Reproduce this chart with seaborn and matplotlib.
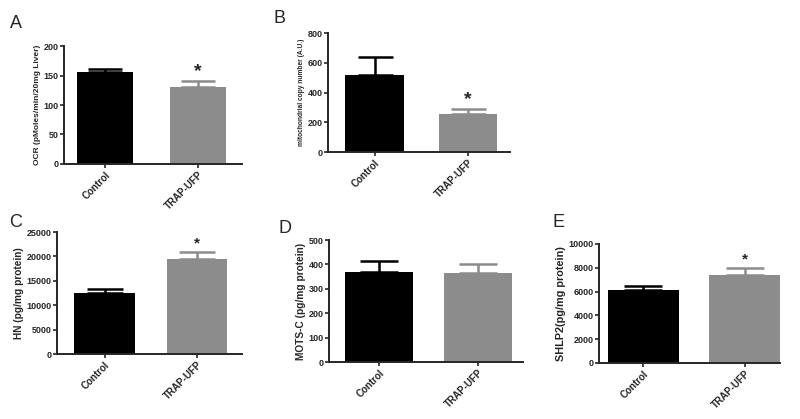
import numpy as np
import pandas as pd
import matplotlib
matplotlib.use("Agg")
import matplotlib.pyplot as plt
import seaborn as sns

sns.set_style("ticks")
plt.rcParams['font.family'] = ['Liberation Sans', 'DejaVu Sans']

groups = ["Control", "TRAP-UFP"]

# values (mean, upper SEM bound)
ocr_mean = [156, 131]
ocr_top = [160.5, 140]
mtdna_mean = [515, 255]
mtdna_top = [639, 289]
hn_mean = [12500, 19400]
hn_top = [13300, 20900]
mots_mean = [368, 366]
mots_top = [414, 400]
shlp2_mean = [6100, 7400]
shlp2_top = [6450, 7990]

bar_colors = ["#000000", "#8c8c8c"]

panels = [
    dict(letter="A", mean=ocr_mean, top=ocr_top, ylim=200, step=50,
         ylabel="OCR (pMoles/min/20mg Liver)", lab_fs=6, star=True,
         pos=[0.08, 0.6086, 0.2225, 0.2816], xlim=(-0.44, 1.47), width=0.6,
         letter_xy=(0.012, 0.965), star_size=14),
    dict(letter="B", mean=mtdna_mean, top=mtdna_top, ylim=800, step=200,
         ylabel="mitochondrial copy number (A.U.)", lab_fs=4.8, star=True,
         pos=[0.41, 0.6372, 0.2275, 0.284], xlim=(-0.5, 1.45), width=0.63,
         letter_xy=(0.342, 0.975), star_size=14),
    dict(letter="C", mean=hn_mean, top=hn_top, ylim=25000, step=5000,
         ylabel="HN (pg/mg protein)", lab_fs=7.3, star=True,
         pos=[0.07125, 0.1551, 0.23125, 0.2912], xlim=(-0.52, 1.49), width=0.66,
         letter_xy=(0.012, 0.49), star_size=11),
    dict(letter="D", mean=mots_mean, top=mots_top, ylim=500, step=100,
         ylabel="MOTS-C (pg/mg protein)", lab_fs=7.3, star=False,
         pos=[0.41125, 0.136, 0.2425, 0.2912], xlim=(-0.51, 1.46), width=0.69,
         letter_xy=(0.348, 0.475), star_size=11),
    dict(letter="E", mean=shlp2_mean, top=shlp2_top, ylim=10000, step=2000,
         ylabel="SHLP2(pg/mg protein)", lab_fs=7.8, star=True,
         pos=[0.74875, 0.1337, 0.22625, 0.284], xlim=(-0.44, 1.35), width=0.7,
         letter_xy=(0.69, 0.49), star_size=11),
]

fig = plt.figure(figsize=(8, 4.19), dpi=100)

for p in panels:
    ax = fig.add_axes(p["pos"])
    df = pd.DataFrame({"group": groups, "value": p["mean"]})
    sns.barplot(data=df, x="group", y="value", hue="group", palette=bar_colors,
                errorbar=None, width=p["width"], legend=False, ax=ax,
                saturation=1, edgecolor="none")
    for i, (m, t) in enumerate(zip(p["mean"], p["top"])):
        ax.errorbar(i, m, yerr=[[0], [t - m]], color=bar_colors[i],
                    capsize=p["width"] * 20, elinewidth=1.8, capthick=1.8,
                    fmt="none")
    if p["star"]:
        ax.text(1, p["top"][1] + p["ylim"] * 0.01, "*", ha="center", va="bottom",
                fontsize=p["star_size"], fontweight="bold")
    ax.set_ylim(0, p["ylim"])
    ax.set_yticks(np.arange(0, p["ylim"] + 1, p["step"]))
    ax.set_xlim(*p["xlim"])
    ax.set_xlabel("")
    ax.set_ylabel(p["ylabel"], fontsize=p["lab_fs"], fontweight="bold", labelpad=2)
    ax.tick_params(axis="y", labelsize=6.5, width=1.2, length=3, pad=1)
    ax.tick_params(axis="x", labelsize=7, width=1.2, length=3, pad=1)
    for lab in ax.get_yticklabels():
        lab.set_fontweight("bold")
    ax.set_xticks([0, 1])
    ax.set_xticklabels(groups, rotation=45, ha="right", rotation_mode="anchor",
                       fontweight="bold")
    sns.despine(ax=ax)
    for s in ["left", "bottom"]:
        ax.spines[s].set_linewidth(1.4)
    fig.text(p["letter_xy"][0], p["letter_xy"][1], p["letter"], fontsize=13,
             ha="left", va="top")

fig.savefig("out.png", dpi=100)
